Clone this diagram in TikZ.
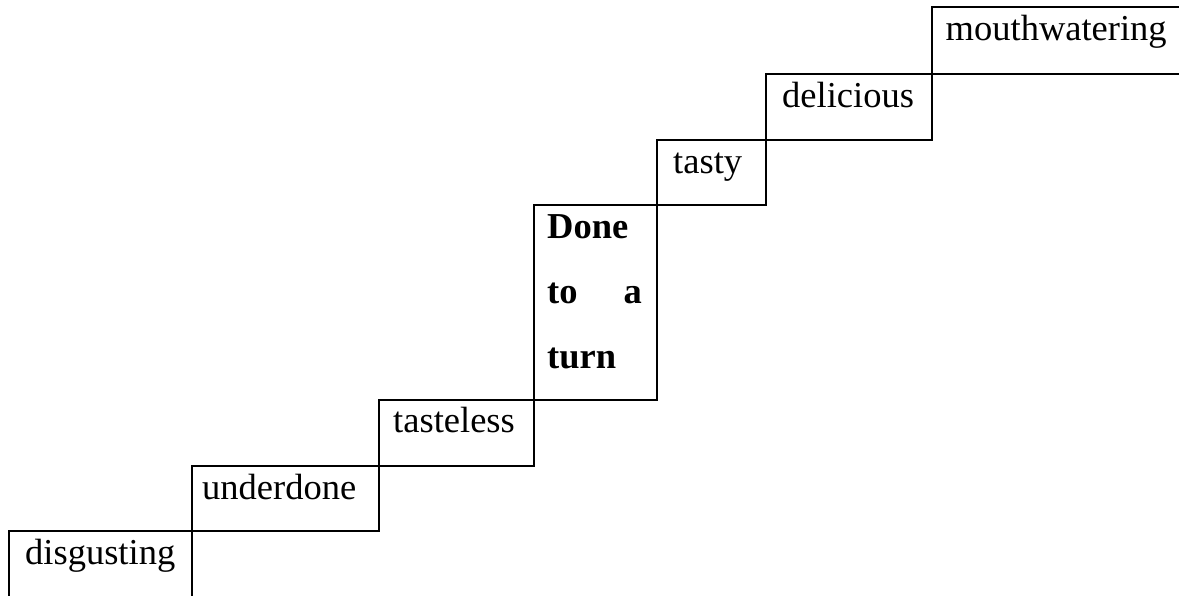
\documentclass[tikz,border=0pt]{standalone}
\usepackage{fontspec}
\setmainfont{Liberation Serif}
\tikzset{
  stairbox/.style={draw=black, line width=2pt},
  word/.style={inner sep=0pt, anchor=base west, font=\fontsize{36.5}{44}\selectfont},
  boldword/.style={word, font=\fontsize{36.5}{44}\selectfont\bfseries},
}
\begin{document}
\begin{tikzpicture}[x=1pt,y=-1pt]
\useasboundingbox (0,0) rectangle (1179,596);
\clip (0,0) rectangle (1179,596);
% boxes
\draw[stairbox] (9,531) rectangle (192,620);
\draw[stairbox] (192,466) rectangle (379,531);
\draw[stairbox] (379,400) rectangle (534,466);
\draw[stairbox] (534,205) rectangle (657,400);
\draw[stairbox] (657,140) rectangle (766,205);
\draw[stairbox] (766,74) rectangle (931.5,140);
\draw[stairbox] (931.5,7.5) rectangle (1200,74);
% texts
\node[word] (disg) at (25,564) {disgusting};
\node[word] (under) at (202,499.5) {underdone};
\node[word] (tastel) at (393,432) {tasteless};
\node[boldword] (done1) at (547,239) {Done};
\node[boldword] (done2) at (547,304) {to};
\node[boldword, anchor=base east] (done3) at (642,304) {a};
\node[boldword] (done4) at (547,368) {turn};
\node[word] (tasty) at (673,173.5) {tasty};
\node[word] (delic) at (782,107.5) {delicious};
\node[word] (mouth) at (945.5,41) {mouthwatering};
\end{tikzpicture}
\end{document}
